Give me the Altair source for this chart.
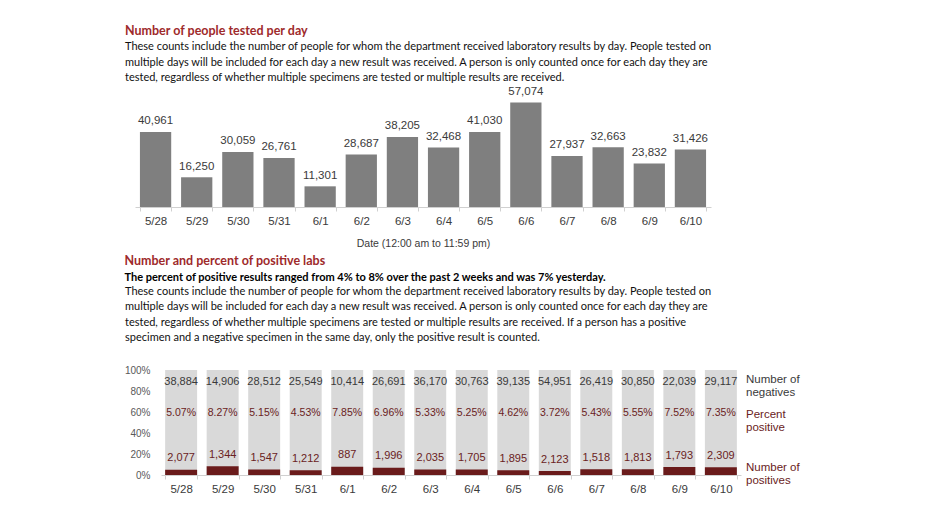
import altair as alt
import pandas as pd

dates = ["5/28", "5/29", "5/30", "5/31", "6/1", "6/2", "6/3", "6/4", "6/5", "6/6", "6/7", "6/8", "6/9", "6/10"]
tested = [40961, 16250, 30059, 26761, 11301, 28687, 38205, 32468, 41030, 57074, 27937, 32663, 23832, 31426]
negatives = [38884, 14906, 28512, 25549, 10414, 26691, 36170, 30763, 39135, 54951, 26419, 30850, 22039, 29117]
positives = [2077, 1344, 1547, 1212, 887, 1996, 2035, 1705, 1895, 2123, 1518, 1813, 1793, 2309]
pct_positive = [5.07, 8.27, 5.15, 4.53, 7.85, 6.96, 5.33, 5.25, 4.62, 3.72, 5.43, 5.55, 7.52, 7.35]

title1 = "Number of people tested per day"
desc1 = [
    "These counts include the number of people for whom the department received laboratory results by day. People tested on",
    "multiple days will be included for each day a new result was received. A person is only counted once for each day they are",
    "tested, regardless of whether multiple specimens are tested or multiple results are received.",
]
title2 = "Number and percent of positive labs"
bold2 = "The percent of positive results ranged from 4% to 8% over the past 2 weeks and was 7% yesterday."
desc2 = [
    "These counts include the number of people for whom the department received laboratory results by day. People tested on",
    "multiple days will be included for each day a new result was received. A person is only counted once for each day they are",
    "tested, regardless of whether multiple specimens are tested or multiple results are received. If a person has a positive",
    "specimen and a negative specimen in the same day, only the positive result is counted.",
]
legend_labels = ["Number of\nnegatives", "Percent\npositive", "Number of\npositives"]
legend_rows = [0.908, 0.576, 0.07]
y_ticks = [0, 0.2, 0.4, 0.6, 0.8, 1.0]

RED = "#9E2A2B"
DARKRED = "#6A1B1B"
LABELRED = "#6A2222"
TXT = "#3A3A3A"
BODY_FONT = "Lato"
NUM_FONT = "Liberation Sans"

df1 = pd.DataFrame({"date": dates, "tested": tested})
df2 = pd.DataFrame({
    "date": dates,
    "neg": negatives,
    "pos": positives,
    "pct": [p / 100 for p in pct_positive],
})
df2["one"] = 1.0
df2["pct_label"] = [f"{p:.2f}%" for p in pct_positive]
df_desc = pd.DataFrame({"line": ["\n".join(desc2)]})
df_leg = pd.DataFrame({"label": legend_labels, "row": legend_rows,
                       "color": [TXT, LABELRED, LABELRED]})

W1, H1 = 576, 122
W2, H2 = 580, 105
SHIFT = 26  # chart 1 plot sits left of chart 2 plot

x1 = alt.X("date:N", sort=dates, title="Date (12:00 am to 11:59 pm)",
           scale=alt.Scale(range=[-SHIFT, W1 - SHIFT], paddingInner=0.24, paddingOuter=0.12),
           axis=alt.Axis(labelAngle=0, labelFont=NUM_FONT, labelFontSize=11.5, labelColor=TXT,
                         labelPadding=4, tickSize=4, tickColor="#D0D0D0", tickBand="extent",
                         domainColor="#D0D0D0", titleFont=NUM_FONT, titleFontSize=10.5,
                         titleFontWeight="normal", titleColor=TXT, titlePadding=12))
y1 = alt.Y("tested:Q", scale=alt.Scale(domain=[0, 66700], nice=False), axis=None)

base1 = alt.Chart(df1).encode(x=x1, y=y1)
bars1 = base1.mark_bar(color="#7F7F7F")
labels1 = base1.mark_text(baseline="middle", dy=-10.7, font=NUM_FONT, fontSize=11.5, color=TXT).encode(
    text=alt.Text("tested:Q", format=",")
)
chart1 = alt.layer(bars1, labels1).properties(
    width=W1, height=H1,
    title=alt.TitleParams(
        text=title1, subtitle=desc1, anchor="start", frame="group", dx=-36,
        font=BODY_FONT, fontSize=12.5, fontWeight="bold", color=RED,
        subtitleFont=BODY_FONT, subtitleFontSize=11, subtitleColor="#111111",
        subtitleLineHeight=15.5, subtitlePadding=4, offset=2,
    ),
)

x2 = alt.X("date:N", sort=dates, title=None,
           scale=alt.Scale(paddingInner=0.23, paddingOuter=0.1),
           axis=alt.Axis(labelAngle=0, labelFont=NUM_FONT, labelFontSize=11.5, labelColor=TXT,
                         labelPadding=4, tickSize=4, tickColor="#D0D0D0", tickBand="extent",
                         domainColor="#D0D0D0"))
yscale2 = alt.Scale(domain=[0, 1], nice=False)
yaxis2 = alt.Axis(values=y_ticks, format=".0%", domain=False, ticks=False, grid=False,
                  labelOverlap=False, labelFlush=False,
                  labelFont=NUM_FONT, labelFontSize=10, labelColor="#595959", labelPadding=11)
base2 = alt.Chart(df2).encode(x=x2)
gray = base2.mark_bar(color="#D9D9D9").encode(
    y=alt.Y("one:Q", scale=yscale2, title=None, axis=yaxis2),
)
dark = base2.mark_bar(color=DARKRED).encode(y=alt.Y("pct:Q", scale=yscale2, title=None, axis=yaxis2))
neg_text = base2.mark_text(baseline="middle", font=NUM_FONT, fontSize=11, color=TXT).encode(
    y=alt.YDatum(0.886, scale=yscale2, title=None, axis=yaxis2), text=alt.Text("neg:Q", format=",")
)
pct_text = base2.mark_text(baseline="middle", font=NUM_FONT, fontSize=10.5, color=LABELRED).encode(
    y=alt.YDatum(0.59, scale=yscale2, title=None, axis=yaxis2), text="pct_label:N"
)
pos_text = base2.mark_text(baseline="middle", dy=-11.5, font=NUM_FONT, fontSize=11, color=LABELRED).encode(
    y=alt.Y("pct:Q", scale=yscale2, title=None, axis=yaxis2), text=alt.Text("pos:Q", format=",")
)
legend_text = alt.Chart(df_leg).mark_text(
    align="left", baseline="middle", font=NUM_FONT, fontSize=11.5, lineBreak="\n", lineHeight=13.5
).encode(
    x=alt.value(W2 + 5), y=alt.Y("row:Q", scale=yscale2, title=None, axis=yaxis2),
    text="label:N", color=alt.Color("color:N", scale=None),
)
desc_text = alt.Chart(df_desc).mark_text(
    align="left", baseline="top", font=BODY_FONT, fontSize=11, color="#111111",
    lineBreak="\n", lineHeight=15.5,
).encode(
    x=alt.value(-36),
    y=alt.value(-84.5),
    text="line:N",
)
chart2 = alt.layer(gray, dark, neg_text, pct_text, pos_text, legend_text, desc_text).properties(
    width=W2, height=H2,
    title=alt.TitleParams(
        text=title2, subtitle=bold2, anchor="start", frame="bounds",
        font=BODY_FONT, fontSize=12.5, fontWeight="bold", color=RED,
        subtitleFont=BODY_FONT, subtitleFontSize=11, subtitleFontWeight="bold",
        subtitleColor="#000000", subtitlePadding=4, offset=3,
    ),
)

chart = alt.vconcat(chart1, chart2, spacing=6).properties(
    padding={"left": 116, "top": 16, "right": 5, "bottom": 5}
).configure_view(stroke=None).configure_axisY(labelOverlap=False)

chart.save("out.html", embed_options={"renderer": "svg", "actions": False})
